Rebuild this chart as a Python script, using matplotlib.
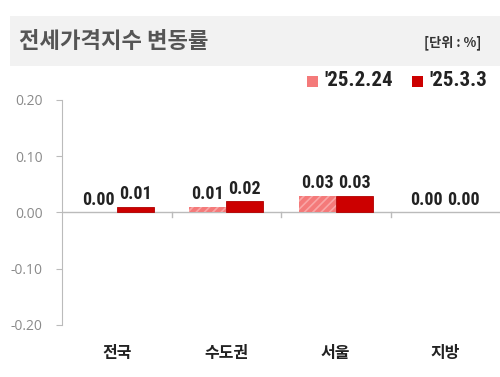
import matplotlib
matplotlib.use("Agg")
import matplotlib.pyplot as plt
from matplotlib.patches import Rectangle
import numpy as np

categories = ["전국", "수도권", "서울", "지방"]
series_names = ["'25.2.24", "'25.3.3"]
values_prev = [0.00, 0.01, 0.03, 0.00]
values_curr = [0.01, 0.02, 0.03, 0.00]
yticks = [0.20, 0.10, 0.00, -0.10, -0.20]

KR = ["Noto Sans CJK KR", "DejaVu Sans"]
NUM = ["Roboto Condensed", "Liberation Sans Narrow", "Liberation Sans", "DejaVu Sans"]
plt.rcParams['font.family'] = KR
plt.rcParams['hatch.linewidth'] = 1.2

W, H = 500, 377
fig = plt.figure(figsize=(5, 3.77), dpi=100)

# header band
fig.patches.append(Rectangle((10 / W, 1 - 66 / H), 490 / W, 50 / H,
                             transform=fig.transFigure, facecolor='#f2f2f2',
                             edgecolor='none', zorder=0))
fig.text(19 / W, 1 - 41 / H, "전세가격지수 변동률", fontsize=16, fontweight='bold',
         color='#555555', va='center', ha='left', family=KR)
fig.text(481 / W, 1 - 43 / H, "[단위 : %]", fontsize=9.5, fontweight='bold',
         color='#333333', va='center', ha='right', family=KR)

ax = fig.add_axes([62 / W, 1 - 325 / H, 438 / W, 225 / H])
ax.set_xlim(0, 4)
ax.set_ylim(-0.2, 0.2)

x = np.arange(len(categories)) + 0.5
bw = 37 / 110
ax.bar(x - bw / 2, values_prev, width=bw, color='#f47a7a', edgecolor='#f9a6a6',
       hatch='////', linewidth=0, zorder=2)
ax.bar(x + bw / 2, values_curr, width=bw, color='#cc0000', edgecolor='#b00000',
       linewidth=[0.6 if v != 0 else 0 for v in values_curr], zorder=2)

for xi, v in zip(x - bw / 2, values_prev):
    ax.text(xi, v + 0.006, f"{v:.2f}", ha='center', va='bottom', fontsize=13,
            fontweight='bold', color='#222222', family=NUM)
for xi, v in zip(x + bw / 2, values_curr):
    ax.text(xi, v + 0.006, f"{v:.2f}", ha='center', va='bottom', fontsize=13,
            fontweight='bold', color='#222222', family=NUM)

ax.axhline(0, color='#bbbbbb', linewidth=1, zorder=1)
for b in [1, 2, 3]:
    ax.plot([b, b], [0, -0.008], color='#bbbbbb', linewidth=1, zorder=1,
            clip_on=False)

for s in ['top', 'right', 'bottom']:
    ax.spines[s].set_visible(False)
ax.spines['left'].set_color('#bbbbbb')
ax.set_yticks(yticks)
ax.set_yticklabels([f"{t:.2f}" for t in yticks], family=["Open Sans", "DejaVu Sans"],
                   fontsize=10, color='#8a8a8a')
ax.tick_params(axis='y', length=4, color='#bbbbbb', pad=10)
ax.set_xticks([])

for xi, c in zip(x, categories):
    ax.text(xi, -0.25, c, ha='center', va='center', fontsize=11.5,
            fontweight='bold', color='#222222', family=KR, transform=ax.transData)

# legend
leg_items = [(307, '#f47a7a', series_names[0]), (412, '#cc0000', series_names[1])]
for lx, col, lab in leg_items:
    fig.patches.append(Rectangle((lx / W, 1 - 87 / H), 11 / W, 11 / H,
                                 transform=fig.transFigure, facecolor=col,
                                 edgecolor='none'))
    fig.text((lx + 17) / W, 1 - 81 / H, lab, fontsize=15, fontweight='bold',
             color='#222222', va='center', ha='left', family=NUM)

fig.savefig("out.png", dpi=100)
